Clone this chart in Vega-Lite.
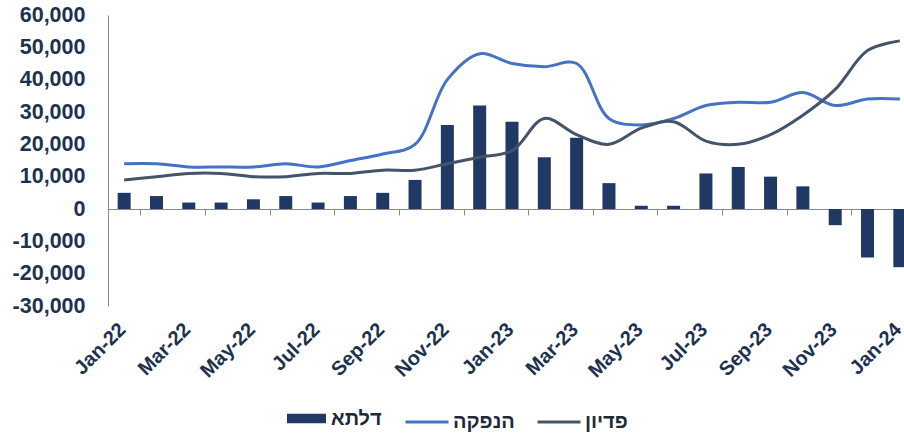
{
  "$schema": "https://vega.github.io/schema/vega-lite/v6.json",
  "autosize": {"type": "none"},
  "padding": {"left": 108, "top": 15, "right": 0, "bottom": 128},
  "width": 808,
  "height": 291,
  "background": "white",
  "config": {"view": {"stroke": null}, "font": "Liberation Sans", "axisY": {"labelOverlap": false}, "axis": {"labelOverlap": false}},
  "data": {"values": [
    {"m": "Jan-22", "s": "דלתא", "v": 5000}, {"m": "Feb-22", "s": "דלתא", "v": 4000}, {"m": "Mar-22", "s": "דלתא", "v": 2000},
    {"m": "Apr-22", "s": "דלתא", "v": 2000}, {"m": "May-22", "s": "דלתא", "v": 3000}, {"m": "Jun-22", "s": "דלתא", "v": 4000},
    {"m": "Jul-22", "s": "דלתא", "v": 2000}, {"m": "Aug-22", "s": "דלתא", "v": 4000}, {"m": "Sep-22", "s": "דלתא", "v": 5000},
    {"m": "Oct-22", "s": "דלתא", "v": 9000}, {"m": "Nov-22", "s": "דלתא", "v": 26000}, {"m": "Dec-22", "s": "דלתא", "v": 32000},
    {"m": "Jan-23", "s": "דלתא", "v": 27000}, {"m": "Feb-23", "s": "דלתא", "v": 16000}, {"m": "Mar-23", "s": "דלתא", "v": 22000},
    {"m": "Apr-23", "s": "דלתא", "v": 8000}, {"m": "May-23", "s": "דלתא", "v": 1000}, {"m": "Jun-23", "s": "דלתא", "v": 1000},
    {"m": "Jul-23", "s": "דלתא", "v": 11000}, {"m": "Aug-23", "s": "דלתא", "v": 13000}, {"m": "Sep-23", "s": "דלתא", "v": 10000},
    {"m": "Oct-23", "s": "דלתא", "v": 7000}, {"m": "Nov-23", "s": "דלתא", "v": -5000}, {"m": "Dec-23", "s": "דלתא", "v": -15000},
    {"m": "Jan-24", "s": "דלתא", "v": -18000},
    {"m": "Jan-22", "s": "הנפקה", "v": 14000}, {"m": "Feb-22", "s": "הנפקה", "v": 14000}, {"m": "Mar-22", "s": "הנפקה", "v": 13000},
    {"m": "Apr-22", "s": "הנפקה", "v": 13000}, {"m": "May-22", "s": "הנפקה", "v": 13000}, {"m": "Jun-22", "s": "הנפקה", "v": 14000},
    {"m": "Jul-22", "s": "הנפקה", "v": 13000}, {"m": "Aug-22", "s": "הנפקה", "v": 15000}, {"m": "Sep-22", "s": "הנפקה", "v": 17000},
    {"m": "Oct-22", "s": "הנפקה", "v": 20000}, {"m": "Nov-22", "s": "הנפקה", "v": 40000}, {"m": "Dec-22", "s": "הנפקה", "v": 48000},
    {"m": "Jan-23", "s": "הנפקה", "v": 45000}, {"m": "Feb-23", "s": "הנפקה", "v": 44000}, {"m": "Mar-23", "s": "הנפקה", "v": 45000},
    {"m": "Apr-23", "s": "הנפקה", "v": 28000}, {"m": "May-23", "s": "הנפקה", "v": 26000}, {"m": "Jun-23", "s": "הנפקה", "v": 28000},
    {"m": "Jul-23", "s": "הנפקה", "v": 32000}, {"m": "Aug-23", "s": "הנפקה", "v": 33000}, {"m": "Sep-23", "s": "הנפקה", "v": 33000},
    {"m": "Oct-23", "s": "הנפקה", "v": 36000}, {"m": "Nov-23", "s": "הנפקה", "v": 32000}, {"m": "Dec-23", "s": "הנפקה", "v": 34000},
    {"m": "Jan-24", "s": "הנפקה", "v": 34000},
    {"m": "Jan-22", "s": "פדיון", "v": 9000}, {"m": "Feb-22", "s": "פדיון", "v": 10000}, {"m": "Mar-22", "s": "פדיון", "v": 11000},
    {"m": "Apr-22", "s": "פדיון", "v": 11000}, {"m": "May-22", "s": "פדיון", "v": 10000}, {"m": "Jun-22", "s": "פדיון", "v": 10000},
    {"m": "Jul-22", "s": "פדיון", "v": 11000}, {"m": "Aug-22", "s": "פדיון", "v": 11000}, {"m": "Sep-22", "s": "פדיון", "v": 12000},
    {"m": "Oct-22", "s": "פדיון", "v": 12000}, {"m": "Nov-22", "s": "פדיון", "v": 14000}, {"m": "Dec-22", "s": "פדיון", "v": 16000},
    {"m": "Jan-23", "s": "פדיון", "v": 18000}, {"m": "Feb-23", "s": "פדיון", "v": 28000}, {"m": "Mar-23", "s": "פדיון", "v": 23000},
    {"m": "Apr-23", "s": "פדיון", "v": 20000}, {"m": "May-23", "s": "פדיון", "v": 25000}, {"m": "Jun-23", "s": "פדיון", "v": 27000},
    {"m": "Jul-23", "s": "פדיון", "v": 21000}, {"m": "Aug-23", "s": "פדיון", "v": 20000}, {"m": "Sep-23", "s": "פדיון", "v": 23000},
    {"m": "Oct-23", "s": "פדיון", "v": 29000}, {"m": "Nov-23", "s": "פדיון", "v": 37000}, {"m": "Dec-23", "s": "פדיון", "v": 49000},
    {"m": "Jan-24", "s": "פדיון", "v": 52000}
  ]},
  "encoding": {
    "x": {
      "field": "m", "type": "ordinal",
      "scale": {"domain": ["Jan-22","Feb-22","Mar-22","Apr-22","May-22","Jun-22","Jul-22","Aug-22","Sep-22","Oct-22","Nov-22","Dec-22","Jan-23","Feb-23","Mar-23","Apr-23","May-23","Jun-23","Jul-23","Aug-23","Sep-23","Oct-23","Nov-23","Dec-23","Jan-24"], "paddingInner": 0, "paddingOuter": 0},
      "axis": {
        "values": ["Jan-22","Mar-22","May-22","Jul-22","Sep-22","Nov-22","Jan-23","Mar-23","May-23","Jul-23","Sep-23","Nov-23","Jan-24"],
        "tickBand": "extent", "offset": -97, "title": null, "grid": false,
        "domainColor": "#898989", "tickColor": "#898989", "tickSize": 6,
        "labelAngle": -45, "labelPadding": 104, "labelOffset": -9, "labelFontSize": 20, "labelFontWeight": "bold",
        "labelColor": "#1E3250", "labelFont": "Liberation Sans", "labelOverlap": false
      }
    },
    "y": {
      "field": "v", "type": "quantitative",
      "scale": {"domain": [-30000, 60000], "nice": false},
      "axis": {
        "values": [-30000,-20000,-10000,0,10000,20000,30000,40000,50000,60000],
        "ticks": false, "grid": false, "title": null, "domainColor": "#898989",
        "labelPadding": 23, "labelFontSize": 21.5, "labelFontWeight": "bold", "labelColor": "#1E3250",
        "labelFont": "Liberation Sans", "labelOverlap": false, "labelBound": false,
        "labelExpr": "replace(format(datum.value, ','), '\u2212', '-')"
      }
    }
  },
  "layer": [
    {
      "transform": [{"filter": "datum.s === 'דלתא'"}],
      "mark": {"type": "bar", "size": 13},
      "encoding": {
        "fill": {
          "field": "s", "type": "nominal", "scale": {"range": ["#1F3864"]},
          "legend": {
            "title": null, "orient": "none", "legendX": 179, "legendY": 384,
            "symbolType": "M-1,-0.25H1V0.25H-1Z", "symbolSize": 1520, "symbolStrokeWidth": 0,
            "labelFontSize": 20, "labelFontWeight": "bold", "labelColor": "#1f2a38", "labelFont": "Liberation Sans", "labelOffset": 5
          }
        }
      }
    },
    {
      "transform": [{"filter": "datum.s !== 'דלתא'"}],
      "mark": {"type": "line", "interpolate": "catmull-rom", "strokeWidth": 3},
      "encoding": {
        "stroke": {
          "field": "s", "type": "nominal",
          "scale": {"domain": ["הנפקה", "פדיון"], "range": ["#4472C4", "#44546A"]},
          "legend": {
            "title": null, "orient": "none", "direction": "horizontal", "legendX": 296, "legendY": 384,
            "symbolType": "stroke", "symbolSize": 1849, "symbolStrokeWidth": 3, "columnPadding": 16,
            "labelFontSize": 20, "labelFontWeight": "bold", "labelColor": "#1f2a38", "labelFont": "Liberation Sans", "labelOffset": 3
          }
        }
      }
    }
  ]
}
